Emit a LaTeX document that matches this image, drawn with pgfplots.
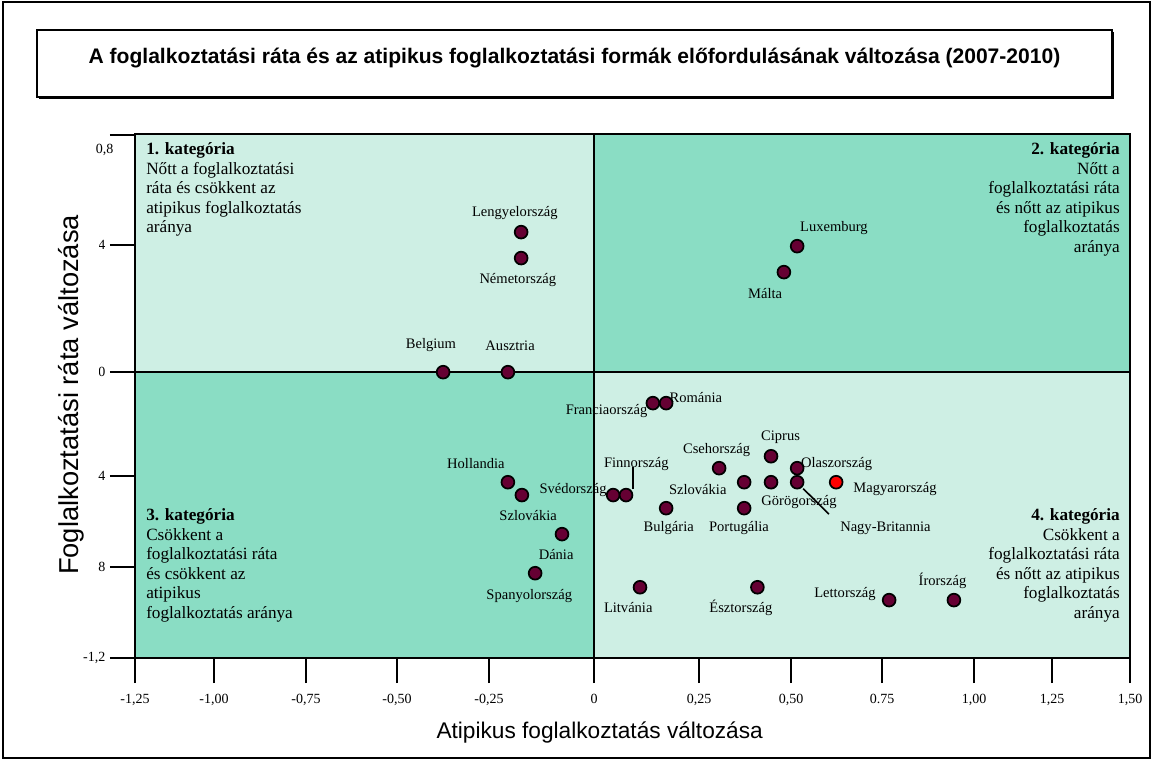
\documentclass[border=0pt]{standalone}
\usepackage{pgfplots}
\usepackage{pgfplotstable}
\pgfplotsset{compat=1.18}
\usepackage{fontspec}
\setmainfont{Liberation Serif}
\newfontfamily\arial{Liberation Sans}
\definecolor{dot}{RGB}{102,0,51}
\definecolor{qdark}{RGB}{138,221,196}
\definecolor{qlight}{RGB}{206,239,228}

\pgfplotstableread{
x y
-0.198 0.588
-0.198 0.479
-0.410 0.000
-0.234 0.000
0.552 0.529
0.516 0.420
0.160 -0.130
0.196 -0.130
0.340 -0.403
0.481 -0.353
0.552 -0.403
0.408 -0.462
0.481 -0.462
0.552 -0.462
0.052 -0.516
0.087 -0.516
0.196 -0.571
0.408 -0.571
0.125 -0.903
0.444 -0.903
0.802 -0.957
0.978 -0.957
-0.234 -0.462
-0.196 -0.516
-0.087 -0.680
-0.160 -0.844
}\countries
\pgfplotstableread{
x y
0.658 -0.462
}\hungary

\begin{document}
\begin{tikzpicture}
\useasboundingbox (0pt,0pt) rectangle (864pt,570pt);
\fill[white] (0pt,0pt) rectangle (864pt,570pt);
\draw[line width=1.5pt] (1.875pt,1.875pt) rectangle (862.125pt,568.125pt);
\fill[black] (29.5pt,495.5pt) rectangle (835.75pt,545.75pt);
\draw[line width=1.1pt, fill=white] (27.75pt,497.25pt) rectangle (834pt,547.5pt);
\node[font=\arial\bfseries\fontsize{15.8}{18}\selectfont] at (430.875pt,526.5pt)
 {A foglalkoztatási ráta és az atipikus foglalkoztatási formák előfordulásának változása (2007-2010)};

\begin{axis}[
  at={(101.25pt,76.5pt)}, anchor=south west,
  scale only axis, width=746.25pt, height=393pt,
  xmin=-1.2473, xmax=1.4565, ymin=-1.2, ymax=1.0,
  axis on top, clip=false,
  axis line style={line width=1.8pt},
  every tick/.style={black, line width=1.5pt},
  tick align=outside, major tick length=18.75pt, tick pos=left,
  xtick={-1.2473,-1.0326,-0.7826,-0.5353,-0.2853,0,0.2853,0.5353,0.7826,1.0326,1.2446,1.4565},
  xticklabels={{-1,25},{-1,00},{-0,75},{-0,50},{-0,25},{0},{0,25},{0,50},{0.75},{1,00},{1,25},{1,50}},
  ytick={0.533,0,-0.4366,-0.8186,-1.2},
  yticklabels={{4},{0},{4},{8},{-1,2}},
  extra y ticks={0.995},
  extra y tick labels={{0{,}8}},
  extra y tick style={yticklabel style={yshift=-11pt, xshift=6pt}},
  ticklabel style={font=\fontsize{10.5}{12}\selectfont},
  xticklabel style={yshift=-5pt},
  xlabel={Atipikus foglalkoztatás változása},
  xlabel style={font=\arial\fontsize{17}{20}\selectfont, at={(axis description cs:0.467,-0.143)}, anchor=center},
  ylabel={Foglalkoztatási ráta változása},
  ylabel style={font=\arial\fontsize{20.5}{24}\selectfont, at={(axis description cs:-0.0643,0.502)}, anchor=center},
]
\fill[qlight] (axis cs:-1.2473,0) rectangle (axis cs:0,1.0);
\fill[qdark] (axis cs:0,0) rectangle (axis cs:1.4565,1.0);
\fill[qdark] (axis cs:-1.2473,-1.2) rectangle (axis cs:0,0);
\fill[qlight] (axis cs:0,-1.2) rectangle (axis cs:1.4565,0);
\draw[line width=1.8pt] (axis cs:0,-1.2) -- (axis cs:0,1.0);
\draw[line width=1.8pt] (axis cs:-1.2473,0) -- (axis cs:1.4565,0);
\draw[line width=1.2pt] (axis cs:0.1057,-0.398) -- (axis cs:0.1057,-0.489);
\draw[line width=1.2pt] (axis cs:0.5685,-0.489) -- (axis cs:0.6383,-0.596);

\addplot[only marks, mark=*, mark size=4.8pt, mark options={fill=dot, draw=black, line width=1.3pt}] table[x=x,y=y] {\countries};
\addplot[only marks, mark=*, mark size=4.8pt, mark options={fill=red, draw=black, line width=1.3pt}] table[x=x,y=y] {\hungary};

\begin{scope}[every node/.style={font=\fontsize{10.9}{12}\selectfont, inner sep=0pt}]
\node at (axis cs:-0.215,0.668) {Lengyelország};
\node at (axis cs:-0.207,0.386) {Németország};
\node at (axis cs:-0.443,0.113) {Belgium};
\node at (axis cs:-0.228,0.113) {Ausztria};
\node at (axis cs:0.652,0.605) {Luxemburg};
\node at (axis cs:0.465,0.332) {Málta};
\node at (axis cs:0.034,-0.164) {Franciaország};
\node at (axis cs:0.277,-0.108) {Románia};
\node at (axis cs:0.507,-0.272) {Ciprus};
\node at (axis cs:0.333,-0.325) {Csehország};
\node at (axis cs:0.115,-0.385) {Finnország};
\node at (axis cs:0.659,-0.385) {Olaszország};
\node at (axis cs:0.282,-0.492) {Szlovákia};
\node at (axis cs:0.818,-0.492) {Magyarország};
\node at (axis cs:0.557,-0.547) {Görögország};
\node at (axis cs:0.792,-0.656) {Nagy-Britannia};
\node at (axis cs:0.203,-0.656) {Bulgária};
\node at (axis cs:0.394,-0.656) {Portugália};
\node at (axis cs:0.947,-0.876) {Írország};
\node at (axis cs:0.682,-0.933) {Lettország};
\node at (axis cs:0.093,-0.988) {Litvánia};
\node at (axis cs:0.399,-0.988) {Észtország};
\node at (axis cs:-0.057,-0.495) {Svédország};
\node at (axis cs:-0.321,-0.385) {Hollandia};
\node at (axis cs:-0.179,-0.602) {Szlovákia};
\node at (axis cs:-0.103,-0.765) {Dánia};
\node at (axis cs:-0.176,-0.940) {Spanyolország};
\end{scope}

\begin{scope}[every node/.style={font=\fontsize{12.9}{14.7}\selectfont, inner sep=0pt}]
\node[anchor=north west, align=left] at (axis cs:-1.2174,0.9656)
 {\textbf{1. kategória}\\Nőtt a foglalkoztatási\\ráta és csökkent az\\atipikus foglalkoztatás\\aránya};
\node[anchor=north east, align=right] at (axis cs:1.4293,0.9656)
 {\textbf{2. kategória}\\Nőtt a\\foglalkoztatási ráta\\és nőtt az atipikus\\foglalkoztatás\\aránya};
\node[anchor=north west, align=left] at (axis cs:-1.2174,-0.571)
 {\textbf{3. kategória}\\Csökkent a\\foglalkoztatási ráta\\és csökkent az\\atipikus\\foglalkoztatás aránya};
\node[anchor=north east, align=right] at (axis cs:1.4293,-0.571)
 {\textbf{4. kategória}\\Csökkent a\\foglalkoztatási ráta\\és nőtt az atipikus\\foglalkoztatás\\aránya};
\end{scope}
\end{axis}
\fill[white] (63.75pt,378.75pt) rectangle (74.5pt,393.75pt);
\fill[white] (63.75pt,283.5pt) rectangle (74.5pt,298.5pt);
\end{tikzpicture}
\end{document}
